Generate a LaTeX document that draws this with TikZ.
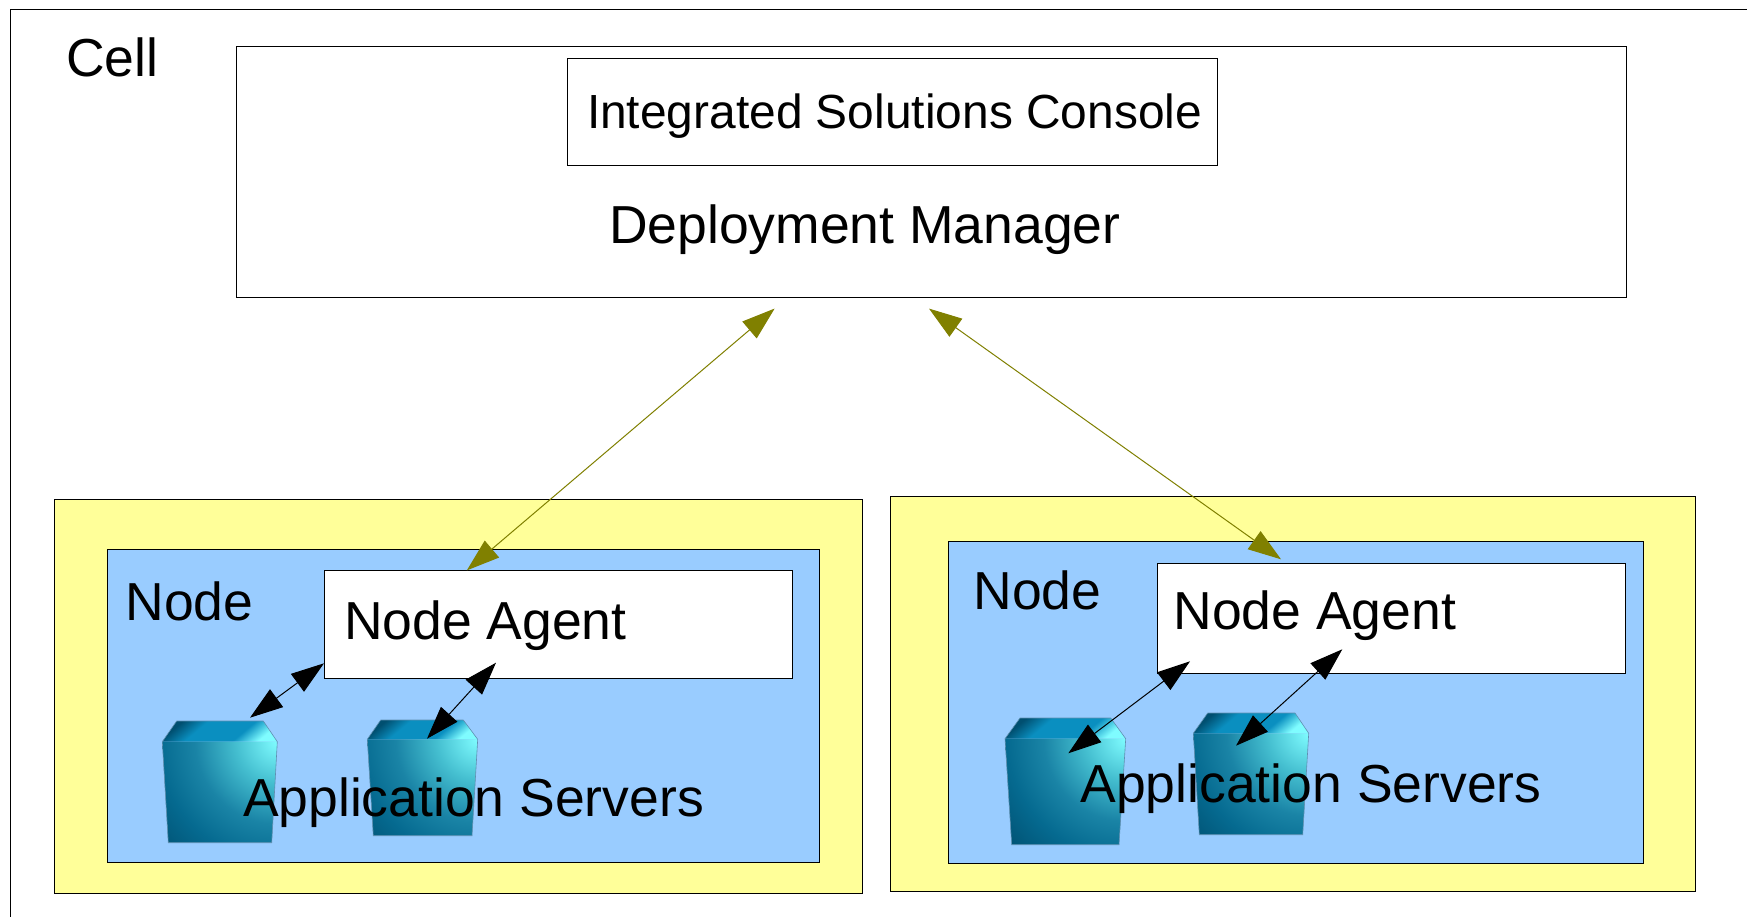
\documentclass[tikz,border=0pt]{standalone}
\usepackage{fontspec}
\setmainfont{Liberation Sans}
\usetikzlibrary{arrows.meta}
\definecolor{nodeyellow}{HTML}{FFFF99}
\definecolor{nodeblue}{HTML}{99CCFF}
\definecolor{linkolive}{HTML}{808000}
\definecolor{cubecyan}{HTML}{7FFCFF}
\definecolor{cubelight}{HTML}{45BFD0}
\definecolor{cubemid}{HTML}{1A84A6}
\definecolor{cubedeep}{HTML}{056A90}
\definecolor{cubedark}{HTML}{004F70}
\definecolor{cubetop}{HTML}{0A8FC0}
\definecolor{cubeedge}{HTML}{5F8FB0}
\pgfdeclareradialshading{cubefront}{\pgfpoint{0bp}{0bp}}{color(0bp)=(cubecyan); color(5bp)=(cubelight); color(10bp)=(cubemid); color(14.5bp)=(cubedeep); color(20bp)=(cubedark); color(50bp)=(cubedark)}
\pgfdeclareverticalshading{cubelid}{100bp}{color(0bp)=(cubecyan); color(25bp)=(cubecyan); color(38bp)=(cubetop); color(62bp)=(cubetop); color(75bp)=(cubedark); color(100bp)=(cubedark)}
\tikzset{
  framebox/.style={draw=black,line width=1pt,anchor=north west,inner sep=0pt,outer sep=0pt},
  label/.style={anchor=base west,inner sep=0pt,outer sep=0pt,text=black,font=\fontsize{53.5}{54}\selectfont},
  smalllabel/.style={label,font=\fontsize{47.9}{48}\selectfont},
  olivelink/.style={draw=linkolive,line width=1pt,{Triangle[length=33pt,width=22pt]}-{Triangle[length=33pt,width=22pt]},color=linkolive},
  blacklink/.style={draw=black,line width=1pt,{Triangle[length=33pt,width=22pt]}-{Triangle[length=33pt,width=22pt]}},
}
% top-left, top-right, right shoulder, bottom-right, bottom-left, left shoulder
\newcommand{\appcube}[6]{%
  \shade[shading=cubelid,shading angle=40] #1 -- #2 -- #3 -- #6 -- cycle;
  \begin{scope}
    \clip #6 -- #3 -- #4 -- #5 -- cycle;
    \path #3 +(0,0) coordinate (cubec);
    \shade[shading=cubefront] (cubec) circle (205);
  \end{scope}
  \draw[cubeedge,line width=0.6pt] #1 -- #2 -- #3 -- #4 -- #5 -- #6 -- cycle;
}
\begin{document}
\begin{tikzpicture}[x=1pt,y=-1pt]
\useasboundingbox (0,0) rectangle (1747,917);
\fill[white] (0,0) rectangle (1747,917);
% Cell frame
\coordinate (cellTR) at (1747,9.5);
\coordinate (cellTL) at (10.5,9.5);
\coordinate (cellBL) at (10.5,917);
\draw[black,line width=1pt] (cellTR) -- (cellTL) -- (cellBL);
\node[label] (celltext) at (66,76.5) {Cell};
% Deployment manager
\node[framebox,fill=white,minimum width=1390.5pt,minimum height=251pt] (dm) at (236,46.5) {};
\node[framebox,fill=white,minimum width=650pt,minimum height=107pt] (isc) at (567.5,58.5) {};
\node[smalllabel] (isctext) at (587,129) {Integrated Solutions Console};
\node[label] (dmtext) at (609,243.5) {Deployment Manager};
% Left node
\node[framebox,fill=nodeyellow,minimum width=808pt,minimum height=394pt] (ly) at (54,499) {};
\node[framebox,fill=nodeblue,minimum width=712pt,minimum height=313pt] (lb) at (107,549) {};
\node[framebox,fill=white,minimum width=468pt,minimum height=108pt] (lna) at (324,570) {};
% Right node
\node[framebox,fill=nodeyellow,minimum width=805.5pt,minimum height=395pt] (ry) at (890,496) {};
\node[framebox,fill=nodeblue,minimum width=695pt,minimum height=322pt] (rb) at (948,541) {};
\node[framebox,fill=white,minimum width=468pt,minimum height=109.5pt] (rna) at (1157.5,563.5) {};
% Cubes
\appcube{(176.7,721)}{(263.3,721)}{(277.3,741.7)}{(271.7,842.7)}{(168.3,842.7)}{(162.3,741.7)}
\appcube{(380.7,720)}{(463.3,720)}{(477.7,739.3)}{(472,835.7)}{(373.3,835.7)}{(367.3,739.3)}
\appcube{(1020,718)}{(1110.7,718)}{(1125.7,738.7)}{(1119,844.7)}{(1011.7,844.7)}{(1005,738.7)}
\appcube{(1207.7,713)}{(1295,713)}{(1308.7,733.3)}{(1302.7,834.7)}{(1199.3,834.7)}{(1193.3,733.3)}
% Labels
\node[label] (lntext) at (125.5,620) {Node};
\node[label] (lnatext) at (344,639.5) {Node Agent};
\node[label] (lastext) at (243,816) {Application Servers};
\node[label] (rntext) at (973.5,609) {Node};
\node[label] (rnatext) at (1173.5,629.5) {Node Agent};
\node[label] (rastext) at (1080.5,802) {Application Servers};
% Connector ends
\coordinate (dmL) at (774.6,308.6);
\coordinate (lnaT) at (466.8,570.4);
\coordinate (dmR) at (929,308.6);
\coordinate (rnaT) at (1281,559.3);
\coordinate (lnaA) at (324,663.3);
\coordinate (cubeA) at (250,717.7);
\coordinate (lnaB) at (496,662.7);
\coordinate (cubeB) at (427,738.7);
\coordinate (rnaA) at (1190,661.3);
\coordinate (cubeC) at (1068.3,753.3);
\coordinate (rnaB) at (1342.3,649.3);
\coordinate (cubeD) at (1236,745.7);
\draw[olivelink] (dmL) -- (lnaT);
\draw[olivelink] (dmR) -- (rnaT);
\draw[blacklink] (lnaA) -- (cubeA);
\draw[blacklink] (lnaB) -- (cubeB);
\draw[blacklink] (rnaA) -- (cubeC);
\draw[blacklink] (rnaB) -- (cubeD);
\end{tikzpicture}
\end{document}
